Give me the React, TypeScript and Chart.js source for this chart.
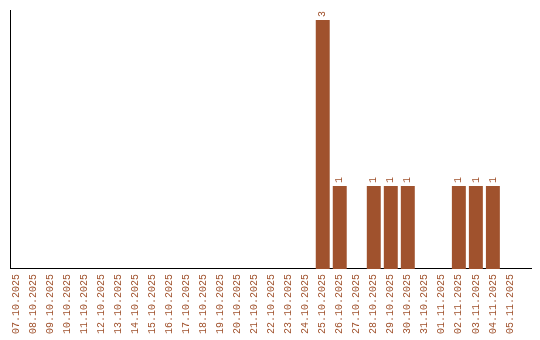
import React, { useEffect, useRef } from "react";
import { Chart, registerables } from "chart.js";

Chart.register(...registerables);

const categories: string[] = [
  "07.10.2025", "08.10.2025", "09.10.2025", "10.10.2025", "11.10.2025",
  "12.10.2025", "13.10.2025", "14.10.2025", "15.10.2025", "16.10.2025",
  "17.10.2025", "18.10.2025", "19.10.2025", "20.10.2025", "21.10.2025",
  "22.10.2025", "23.10.2025", "24.10.2025", "25.10.2025", "26.10.2025",
  "27.10.2025", "28.10.2025", "29.10.2025", "30.10.2025", "31.10.2025",
  "01.11.2025", "02.11.2025", "03.11.2025", "04.11.2025", "05.11.2025",
];

const counts: number[] = [
  0, 0, 0, 0, 0, 0, 0, 0, 0, 0,
  0, 0, 0, 0, 0, 0, 0, 0, 3, 1,
  0, 1, 1, 1, 0, 0, 1, 1, 1, 0,
];

const COLOR = "#A0522D";
const FONT_FAMILY = "'Liberation Mono', 'DejaVu Sans Mono', monospace";

const valueLabels = {
  id: "valueLabels",
  afterDatasetsDraw(chart: any) {
    const ctx = chart.ctx;
    const meta = chart.getDatasetMeta(0);
    ctx.save();
    ctx.fillStyle = COLOR;
    ctx.font = `10px ${FONT_FAMILY}`;
    ctx.textAlign = "left";
    ctx.textBaseline = "middle";
    meta.data.forEach((bar: any, i: number) => {
      const v = counts[i];
      if (!v) return;
      ctx.save();
      ctx.translate(bar.x, bar.y - 3);
      ctx.rotate(-Math.PI / 2);
      ctx.fillText(String(v), 0, 0);
      ctx.restore();
    });
    ctx.restore();
  },
};

export default function App() {
  const ref = useRef<HTMLCanvasElement | null>(null);

  useEffect(() => {
    document.body.style.margin = "0";
    const canvas = ref.current;
    if (!canvas) return;
    const chart = new Chart(canvas, {
      type: "bar",
      data: {
        datasets: [
          {
            data: counts.map((v, i) => ({ x: i, y: v })),
            backgroundColor: COLOR,
            borderWidth: 0,
            barPercentage: 1,
            categoryPercentage: 0.82,
          },
        ],
      },
      options: {
        animation: false,
        responsive: false,
        maintainAspectRatio: false,
        layout: { padding: { left: 10, right: 9, top: 10, bottom: 1 } },
        plugins: {
          legend: { display: false },
          tooltip: { enabled: false },
        },
        scales: {
          x: {
            type: "linear",
            offset: false,
            min: -0.38,
            max: 30.24,
            grid: { display: false, drawTicks: false, offset: false },
            border: { display: true, color: "#000", width: 1 },
            afterBuildTicks: (scale: any) => {
              scale.ticks = categories.map((_, i) => ({ value: i }));
            },
            ticks: {
              autoSkip: false,
              minRotation: 90,
              maxRotation: 90,
              padding: 5,
              color: COLOR,
              font: { family: FONT_FAMILY, size: 10 },
              callback: (value: any) => categories[value] ?? "",
            },
          },
          y: {
            min: 0,
            max: 3.12,
            grid: { display: false, drawTicks: false },
            border: { display: true, color: "#000", width: 1 },
            ticks: { display: false },
          },
        },
      },
      plugins: [valueLabels],
    });
    return () => chart.destroy();
  }, []);

  return (
    <div style={{ width: 540, height: 340 }}>
      <canvas ref={ref} width={540} height={340} style={{ display: "block" }} />
    </div>
  );
}
